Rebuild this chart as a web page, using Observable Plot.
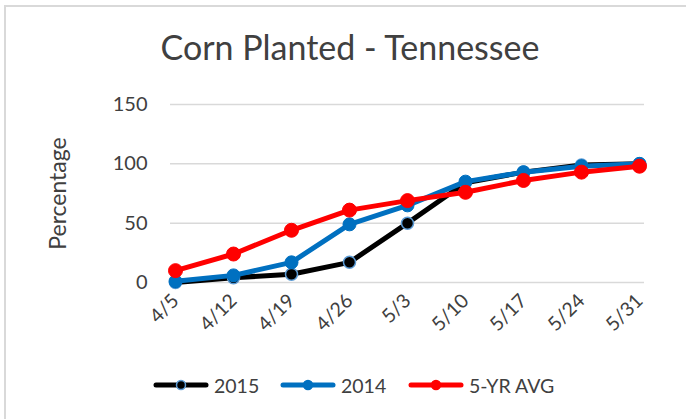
<!DOCTYPE html>
<html>
<head>
<meta charset="utf-8">
<script src="https://cdn.jsdelivr.net/npm/d3@7"></script>
<script src="https://cdn.jsdelivr.net/npm/@observablehq/plot@0.6"></script>
<style>
  html, body { margin: 0; padding: 0; background: #fff; }
  #wrap { position: relative; width: 686px; height: 419px; overflow: hidden; font-family: Lato, "Open Sans", sans-serif; }
  #frame { position: absolute; left: 4px; top: 5px; width: 700px; height: 440px; border-left: 2px solid #d9d9d9; border-top: 2px solid #d9d9d9; box-sizing: border-box; }
  #title { position: absolute; left: 0; top: 26px; width: 700px; text-align: center; font-size: 34px; color: #404040; white-space: nowrap; }
  #chart { position: absolute; left: 0; top: 0; }
  #legend { position: absolute; top: 372px; left: 0; width: 686px; height: 26px; }
  .item { position: absolute; top: 0; display: flex; align-items: center; font-size: 19.5px; color: #404040; height: 26px; }
  .item svg { margin-right: 5px; }
</style>
</head>
<body>
<div id="wrap">
  <div id="frame"></div>
  <div id="title">Corn Planted - Tennessee</div>
  <div id="chart"></div>
  <div id="legend"></div>
</div>
<script>
const dates = ["4/5", "4/12", "4/19", "4/26", "5/3", "5/10", "5/17", "5/24", "5/31"];
const s2015 = [0, 4, 7, 17, 50, 84, 93, 99, 100];
const s2014 = [1, 6, 17, 49, 65, 85, 93, 98, 100];
const avg5 = [10, 24, 44, 61, 69, 76, 86, 93, 98];
const seriesNames = ["2015", "2014", "5-YR AVG"];
const yTicks = [0, 50, 100, 150];
const yLabel = "Percentage";

const colors = {"2015": "#000000", "2014": "#0070c0", "5-YR AVG": "#ff0000"};
const markerStroke = {"2015": "#5b9bd5", "2014": "#0070c0", "5-YR AVG": "#ff0000"};
const markerR = {"2015": 6, "2014": 6.5, "5-YR AVG": 7};

const valuesBy = {"2015": s2015, "2014": s2014, "5-YR AVG": avg5};
const rows = [];
for (const name of seriesNames) {
  valuesBy[name].forEach((v, i) => rows.push({series: name, date: dates[i], value: v}));
}

const marks = [
  Plot.gridY(yTicks, {stroke: "#d9d9d9", strokeOpacity: 1, strokeWidth: 1.5}),
  Plot.axisY(yTicks, {tickSize: 0, tickPadding: 23, fontSize: 20, color: "#404040", label: null}),
  Plot.axisX(dates, {tickSize: 0, tickPadding: 15, tickRotate: -45, fontSize: 19.5, color: "#404040", label: null}),
  Plot.text([yLabel], {frameAnchor: "left", dx: -112, rotate: -90, textAnchor: "middle", fontSize: 23, fill: "#404040"})
];
for (const name of seriesNames) {
  const d = rows.filter(r => r.series === name);
  marks.push(Plot.line(d, {x: "date", y: "value", stroke: colors[name], strokeWidth: 5, strokeLinejoin: "round", strokeLinecap: "round"}));
  marks.push(Plot.dot(d, {x: "date", y: "value", r: markerR[name], fill: colors[name], stroke: markerStroke[name], strokeWidth: name === "2015" ? 1.5 : 1}));
}

const chart = Plot.plot({
  width: 686,
  height: 419,
  marginTop: 104,
  marginBottom: 137,
  marginLeft: 170,
  marginRight: 42,
  style: {fontFamily: "Lato, 'Open Sans', sans-serif", background: "transparent", overflow: "visible"},
  x: {type: "point", domain: dates, padding: 0, insetLeft: 3, insetRight: 3},
  y: {domain: [0, 150]},
  marks
});
document.getElementById("chart").append(chart);

// legend
const legendPos = {"2015": 153, "2014": 280, "5-YR AVG": 408};
const legend = document.getElementById("legend");
for (const name of seriesNames) {
  const item = document.createElement("div");
  item.className = "item";
  item.style.left = legendPos[name] + "px";
  const ns = "http://www.w3.org/2000/svg";
  const sw = document.createElementNS(ns, "svg");
  sw.setAttribute("width", 56); sw.setAttribute("height", 16);
  const ln = document.createElementNS(ns, "line");
  ln.setAttribute("x1", 3); ln.setAttribute("x2", 53); ln.setAttribute("y1", 8); ln.setAttribute("y2", 8);
  ln.setAttribute("stroke", colors[name]); ln.setAttribute("stroke-width", 5); ln.setAttribute("stroke-linecap", "round");
  const c = document.createElementNS(ns, "circle");
  c.setAttribute("cx", 28); c.setAttribute("cy", 8); c.setAttribute("r", 4.5);
  c.setAttribute("fill", colors[name]); c.setAttribute("stroke", markerStroke[name]); c.setAttribute("stroke-width", 1.5);
  sw.append(ln, c);
  const t = document.createElement("span");
  t.textContent = name;
  item.append(sw, t);
  legend.append(item);
}
</script>
</body>
</html>
